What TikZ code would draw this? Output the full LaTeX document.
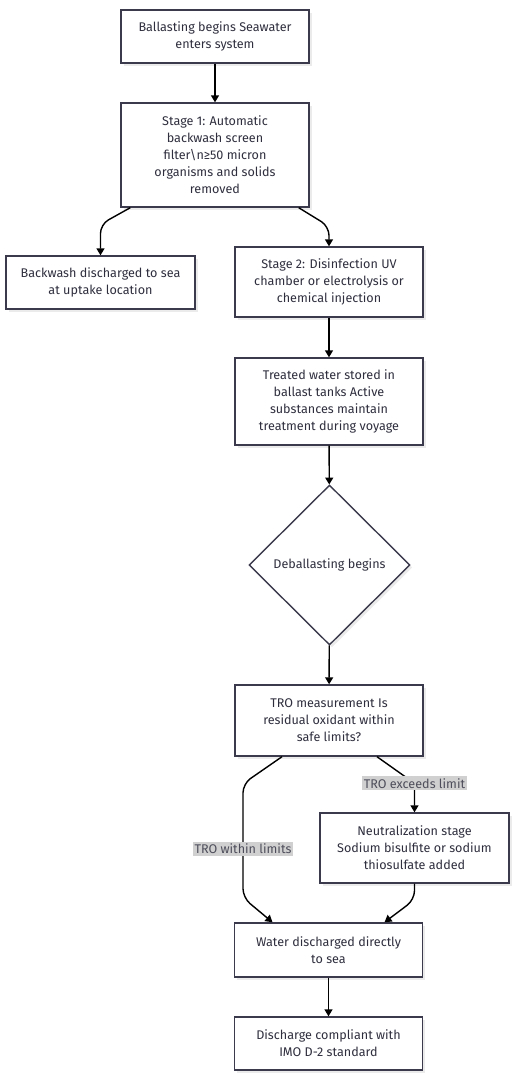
\documentclass[tikz,border=0pt]{standalone}
\usepackage{fontspec}
\setmainfont{Fira Sans}
\usetikzlibrary{arrows.meta,shapes.geometric,shadows}
\definecolor{caja}{HTML}{3A3A4C}
\definecolor{texto}{HTML}{2E2E3E}
\definecolor{etiq}{HTML}{D0D0D0}
\begin{document}
\begin{tikzpicture}[x=1pt, y=-1pt, line width=1.4pt,
  flecha/.style={-{Triangle[width=8pt,length=7pt]}, black, rounded corners=9pt},
  caja/.style={rectangle, draw=caja, fill=white, text=texto, align=center,
    minimum width=188pt, font=\fontsize{12.6}{17}\selectfont,
    drop shadow={shadow xshift=2.5pt, shadow yshift=-2.5pt, fill=black!8, opacity=1}},
  rombo/.style={caja, diamond, minimum width=161pt, minimum height=160pt, inner sep=0pt},
  etiqueta/.style={fill=etiq, text=texto!85, inner sep=2pt, sharp corners, font=\fontsize{12.6}{14}\selectfont}]
\useasboundingbox (0,0) rectangle (515,1080);
% Nodos
\node [caja, minimum height=53pt] (inicio)  at (215,36.5) {Ballasting begins Seawater\\enters system};
\node [caja, minimum height=104pt] (etapa1) at (215,155) {Stage 1: Automatic\\backwash screen\\filter\textbackslash n≥50 micron\\organisms and solids\\removed};
\node [caja, minimum height=53pt, minimum width=189pt] (retrolav) at (100.5,282.5) {Backwash discharged to sea\\at uptake location};
\node [caja, minimum height=70pt] (etapa2)  at (329,282) {Stage 2: Disinfection UV\\chamber or electrolysis or\\chemical injection};
\node [caja, minimum height=87pt] (tanques) at (329,401.5) {Treated water stored in\\ballast tanks Active\\substances maintain\\treatment during voyage};
\node [rombo] (deslastre) at (329.5,565) {Deballasting begins};
\node [caja, minimum height=71pt] (tro)     at (329,720.5) {TRO measurement Is\\residual oxidant within\\safe limits?};
\node [caja, minimum height=70pt, minimum width=189pt] (neutral) at (414.5,848) {Neutralization stage\\Sodium bisulfite or sodium\\thiosulfate added};
\node [caja, minimum height=54pt] (descarga) at (328.5,950) {Water discharged directly\\to sea};
\node [caja, minimum height=53pt] (cumple)  at (328.5,1043.5) {Discharge compliant with\\IMO D-2 standard};
% Flechas
\draw [flecha] (inicio) -- (etapa1);
\draw [flecha] ([xshift=10pt]etapa1.south west) -- ([yshift=31pt]retrolav.north) -- (retrolav.north);
\draw [flecha] ([xshift=-11pt]etapa1.south east) -- ([yshift=20pt]etapa2.north) -- (etapa2.north);
\draw [flecha] (etapa2) -- (tanques);
\draw [flecha] (tanques) -- (deslastre);
\draw [flecha] (deslastre) -- (tro);
% TRO
\draw [flecha] ([xshift=-47pt]tro.south) -- ++(-39,27) -- ++(0,114)
  node [etiqueta, pos=0.57] {TRO within limits} -- ([xshift=-56pt]descarga.north);
\draw [flecha, rounded corners=0pt] ([xshift=48pt]tro.south) -- ([yshift=29pt]neutral.north)
  node [etiqueta] {TRO exceeds limit} -- (neutral.north);
\draw [flecha] (neutral.south) -- ++(0,16) -- ([xshift=56pt]descarga.north);
\draw [flecha] (descarga) -- (cumple);
\end{tikzpicture}
\end{document}
